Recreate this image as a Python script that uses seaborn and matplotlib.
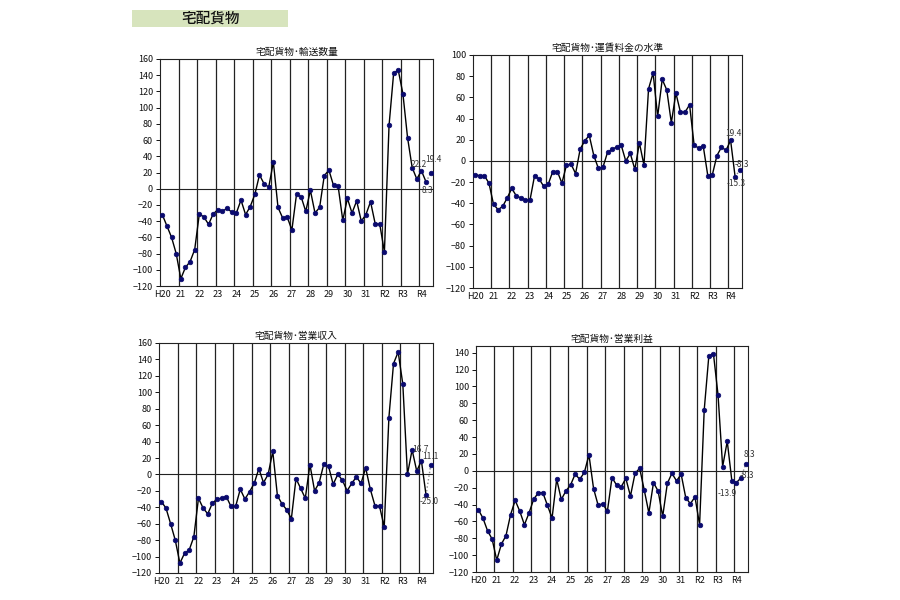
import matplotlib
matplotlib.use("Agg")
import matplotlib.pyplot as plt
import matplotlib.patches as mpatches
import seaborn as sns
import numpy as np
import pandas as pd

# year labels (one per fiscal year, 4 quarters each)
years = ["H20", "21", "22", "23", "24", "25", "26", "27", "28", "29",
         "30", "31", "R2", "R3", "R4"]

# 宅配貨物 DI values, quarterly
transport = [-32, -46, -60, -80,
             -111, -97, -90, -75,
             -31, -35, -44, -31,
             -26, -28, -24, -29,
             -30, -14, -32, -22,
             -7, 17, 6, 2,
             33, -23, -36, -35,
             -51, -7, -10, -28,
             -2, -30, -23, 16,
             23, 4, 3, -39,
             -12, -30, -15, -40,
             -32, -16, -43, -44,
             -78, 78, 143, 146,
             117, 63, 26, 12,
             22.2, 8.3, 19.4]

fare = [-13, -14, -14, -21,
        -41, -46, -43, -35,
        -26, -33, -35, -37,
        -37, -14, -17, -24,
        -22, -10, -10, -21,
        -4, -3, -12, 11,
        19, 24, 5, -7,
        -6, 8, 11, 13,
        15, 0, 7, -8,
        17, -4, 68, 83,
        42, 77, 67, 36,
        64, 46, 46, 53,
        15, 12, 14, -14,
        -13, 5, 13, 10,
        19.4, -15.3, -8.3]

revenue = [-33, -41, -60, -80,
           -108, -96, -92, -76,
           -29, -41, -48, -35,
           -30, -29, -27, -39,
           -39, -18, -30, -21,
           -11, 7, -10, 0,
           28, -26, -36, -43,
           -54, -5, -17, -29,
           12, -20, -10, 13,
           10, -12, 0, -7,
           -20, -11, -3, -11,
           8, -18, -38, -39,
           -64, 69, 135, 149,
           110, 0, 30, 4,
           16.7, -25.0, 11.1]

profit = [-46, -56, -71, -81,
          -106, -87, -77, -52,
          -35, -48, -64, -50,
          -34, -26, -26, -41,
          -56, -10, -34, -24,
          -17, -4, -10, -2,
          19, -21, -41, -39,
          -48, -8, -17, -19,
          -9, -30, -3, 3,
          -23, -50, -14, -24,
          -54, -15, -3, -12,
          -4, -32, -39, -31,
          -64, 72, 136, 139,
          90, 5, 35, -12,
          -13.9, -8.3, 8.3]

sns.set_theme(style="white")
plt.rcParams['font.family'] = ['Noto Sans CJK JP', 'DejaVu Sans']

fig = plt.figure(figsize=(9, 6), dpi=100)
fig.patch.set_facecolor("white")

# header box
fig.patches.append(mpatches.Rectangle((132 / 900, 1 - 27 / 600), 156 / 900, 17 / 600,
                                      transform=fig.transFigure, facecolor="#d7e4bd",
                                      edgecolor="none"))
fig.text(210 / 900, 1 - 18.5 / 600, "宅配貨物", ha="center", va="center",
         fontsize=10.5, color="#111111", fontweight="medium")


def px(l, r, t, b):
    return [l / 900, (600 - b) / 600, (r - l) / 900, (b - t) / 600]


# (title, values, axes rect, ylim, ytick max, label offsets (pt) for the last three points)
panels = [
    ("宅配貨物･輸送数量", transport, px(160, 433, 59, 286), (-120, 160), 160,
     [(-2, 4.5), (1, -6), (2, 9.5)]),
    ("宅配貨物･運賃料金の水準", fare, px(473, 742, 55, 288), (-120, 100), 100,
     [(2, 5), (0.5, -4.5), (1.5, 3.5)]),
    ("宅配貨物･営業収入", revenue, px(159, 433, 343, 573), (-120, 160), 160,
     [(-1, 8), (2, -4.5), (0, 6.5)]),
    ("宅配貨物･営業利益", profit, px(476, 748, 346, 572), (-120, 148), 140,
     [(-6.5, -8), (4, 2), (2.5, 6.5)]),
]

nq = len(transport)
xpos = np.arange(nq) + 0.5

for title, vals, rect, ylim, ytop, offs in panels:
    ax = fig.add_axes(rect)
    df = pd.DataFrame({"x": xpos, "v": vals})
    solid = df.iloc[:nq - 1]
    sns.lineplot(data=solid, x="x", y="v", color="black", linewidth=1.0, ax=ax,
                 zorder=2)
    # last (forecast) segment dotted
    ax.plot(df["x"].iloc[-2:], df["v"].iloc[-2:], color="#888888", linestyle=":",
            linewidth=1.0, zorder=2)
    sns.scatterplot(data=df, x="x", y="v", color="#0a0a6e", edgecolor="#0a0a6e",
                    s=11, ax=ax, zorder=3, linewidth=0.5)

    for k in range(1, len(years)):
        ax.axvline(4 * k, color="#222222", linewidth=0.9, zorder=1)
    ax.axhline(0, color="#222222", linewidth=0.8, zorder=1)

    ax.set_xlim(0, nq)
    ax.set_ylim(*ylim)
    ax.set_yticks(np.arange(-120, ytop + 1, 20))
    ax.set_xticks(np.arange(len(years)) * 4 + 0.5)
    ax.set_xticklabels(years)
    ax.tick_params(axis="y", direction="out", length=3, width=0.7, labelsize=6.5,
                   pad=2, left=True, colors="#111111")
    ax.tick_params(axis="x", length=0, labelsize=6.5, pad=3, colors="#111111")
    ax.set_xlabel("")
    ax.set_ylabel("")
    for s in ax.spines.values():
        s.set_color("#222222")
        s.set_linewidth(0.8)
    ax.set_title(title, fontsize=7, pad=3, color="#111111")

    for i, (dx, dy) in zip(range(nq - 3, nq), offs):
        ax.annotate(f"{vals[i]:.1f}", (xpos[i], vals[i]), xytext=(dx, dy),
                    textcoords="offset points", ha="center", va="center",
                    fontsize=6, color="#333333", zorder=4)

fig.savefig("out.png", dpi=100, facecolor="white")
